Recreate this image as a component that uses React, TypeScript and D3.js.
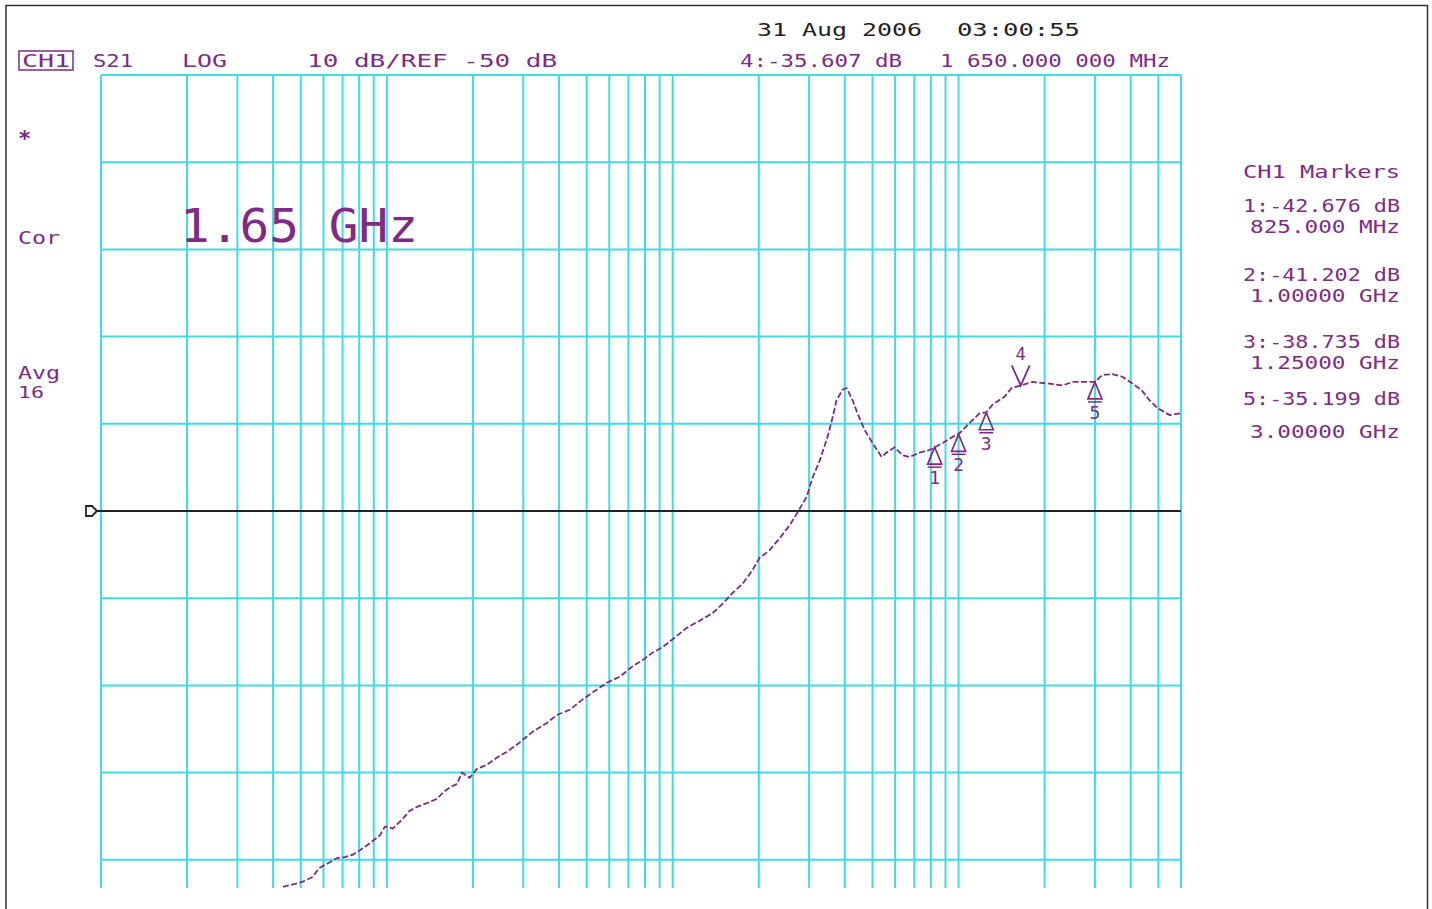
import React from "react";
import * as d3 from "d3";

// ---- data ----
const freqMHz = [
  4.33, 4.85, 5.08, 5.47, 5.83, 6.22, 6.69, 7.13, 7.61, 8.05, 8.72, 9.45, 9.84, 10.5, 11.3, 12.0, 12.8, 13.8,
  15.0, 15.7, 16.6, 17.6, 18.3, 19.5, 20.6, 22.4, 24.2, 26.3, 28.5, 32.4, 36.3, 39.3, 43.6, 48.4, 54.2, 58.8,
  65.3, 72.4, 78.5, 84.5, 92.3, 100, 112, 124, 138, 150, 162, 176, 190, 201, 218, 237, 257, 274, 294, 309, 327,
  348, 363, 374, 393, 406, 426, 443, 469, 500, 538, 565, 597, 637, 674, 731, 792, 825, 880, 953, 1007, 1093,
  1184, 1250, 1315, 1448, 1532, 1650, 1815, 2080, 2310, 2505, 2715, 3000, 3185, 3450, 3740, 4025, 4360, 4655,
  4965, 5470, 6000,
];
const s21dB = [
  -93.1, -92.7, -92.5, -92.0, -90.9, -90.4, -89.8, -89.7, -89.4, -88.9, -88.1, -87.2, -86.2, -86.4, -85.4, -84.4,
  -83.9, -83.5, -83.0, -82.3, -81.7, -81.3, -80.0, -80.6, -79.6, -79.1, -78.3, -77.6, -76.8, -75.3, -74.3, -73.4,
  -72.8, -71.6, -70.5, -69.7, -69.0, -67.8, -67.1, -66.3, -65.6, -64.7, -63.4, -62.6, -61.7, -60.6, -59.4, -58.3,
  -56.8, -55.4, -54.5, -53.1, -51.6, -50.1, -48.4, -46.1, -44.2, -41.5, -39.2, -37.3, -36.1, -35.9, -37.3, -38.8,
  -40.7, -42.2, -43.8, -43.2, -42.7, -43.6, -43.8, -43.3, -43.0, -42.7, -42.2, -41.5, -41.1, -39.9, -38.8, -38.7,
  -37.8, -36.9, -35.9, -35.6, -35.2, -35.4, -35.6, -35.2, -35.2, -35.2, -34.4, -34.3, -34.6, -35.3, -36.1, -37.3,
  -38.2, -39.0, -38.8,
];

const markerIds = ["1", "2", "3", "4", "5"];
const markerFreqMHz = [825, 1000, 1250, 1650, 3000];
const markerDb = [-42.676, -41.202, -38.735, -35.607, -35.199];
const activeMarker = "4";

const markerListTitle = "CH1 Markers";
const markerListLines = [
  "1:-42.676 dB",
  "825.000 MHz",
  "2:-41.202 dB",
  "1.00000 GHz",
  "3:-38.735 dB",
  "1.25000 GHz",
  "5:-35.199 dB",
  "3.00000 GHz",
];

const startHz = 1e6;
const stopHz = 6e9;
const refDb = -50;
const dbPerDiv = 10;
const topDb = 0;
const bottomDb = -100;

// ---- styling ----
const W = 1432;
const H = 909;
const PURPLE = "#7e2a86";
const CYAN = "#3fdce4";
const MONO = "'DejaVu Sans Mono', monospace";

export default function App() {
  const plotL = 101;
  const plotR = 1181;
  const plotT = 75;
  const plotB = 947;
  const clipB = 888;

  const x = d3.scaleLog().domain([startHz, stopHz]).range([plotL, plotR]);
  const y = d3.scaleLinear().domain([bottomDb, topDb]).range([plotB, plotT]);

  const vTicks = x.ticks();
  const hTicks = d3.range(bottomDb + dbPerDiv, topDb + 0.1, dbPerDiv);

  const line = d3
    .line<number>()
    .x((_, i) => x(freqMHz[i] * 1e6))
    .y((d) => y(d));

  const markerListY = [212, 233, 281, 302, 348, 369, 405, 438];

  return (
    <svg
      width={W}
      height={H}
      viewBox={`0 0 ${W} ${H}`}
      style={{ position: "absolute", left: 0, top: 0, background: "#fff" }}
    >
      <rect x={0} y={0} width={W} height={H} fill="#fff" />
      {/* outer frame */}
      <path d={`M6,${H + 2} V5.5 H1427.5 V${H + 2}`} fill="none" stroke="#333" strokeWidth={1.5} />

      {/* graticule */}
      <g stroke={CYAN} strokeWidth={2} fill="none">
        {vTicks.map((t, i) => (
          <line key={"v" + i} x1={x(t)} x2={x(t)} y1={plotT} y2={clipB} />
        ))}
        {hTicks
          .filter((d) => y(d) < clipB && d !== refDb)
          .map((d, i) => (
            <line key={"h" + i} x1={plotL} x2={plotR} y1={y(d)} y2={y(d)} />
          ))}
      </g>

      {/* reference line & marker */}
      <line x1={93} x2={plotR} y1={y(refDb)} y2={y(refDb)} stroke="#222" strokeWidth={2} />
      <path
        d={`M86,${y(refDb) - 5} H92 L97,${y(refDb)} L92,${y(refDb) + 5} H86 Z`}
        fill="#fff"
        stroke="#222"
        strokeWidth={1.8}
      />

      {/* trace */}
      <path
        d={line(s21dB) || ""}
        fill="none"
        stroke={PURPLE}
        strokeWidth={1.8}
        strokeDasharray="6 2.5"
      />

      {/* markers on trace */}
      {markerIds.map((id, i) => {
        const mx = x(markerFreqMHz[i] * 1e6);
        const my = y(markerDb[i]);
        if (id === activeMarker) {
          return (
            <g key={id}>
              <path
                d={`M${mx - 9},${my - 20} L${mx},${my} L${mx + 9},${my - 20}`}
                fill="none"
                stroke={PURPLE}
                strokeWidth={1.8}
              />
              <text x={mx} y={my - 25} fontFamily={MONO} fontSize={17} fill={PURPLE} textAnchor="middle">
                {id}
              </text>
            </g>
          );
        }
        return (
          <g key={id}>
            <path
              d={`M${mx},${my} L${mx - 7},${my + 17} H${mx + 7} Z`}
              fill="none"
              stroke={PURPLE}
              strokeWidth={1.7}
            />
            <line x1={mx - 7} x2={mx + 7} y1={my + 20} y2={my + 20} stroke={PURPLE} strokeWidth={1.5} />
            <text x={mx} y={my + 37} fontFamily={MONO} fontSize={18} fill={PURPLE} textAnchor="middle">
              {id}
            </text>
          </g>
        );
      })}

      {/* header */}
      <g fontFamily={MONO} fontSize={18}>
        <text x={757} y={36} fill="#222" textLength={165} lengthAdjust="spacingAndGlyphs">31 Aug 2006</text>
        <text x={957} y={36} fill="#222" textLength={123} lengthAdjust="spacingAndGlyphs">03:00:55</text>
        <rect x={19} y={51} width={54} height={19} fill="none" stroke={PURPLE} strokeWidth={1.5} />
        <text x={22} y={67} fill={PURPLE} textLength={48} lengthAdjust="spacingAndGlyphs">CH1</text>
        <text x={93} y={67} fill={PURPLE} textLength={40} lengthAdjust="spacingAndGlyphs">S21</text>
        <text x={182} y={67} fill={PURPLE} textLength={45} lengthAdjust="spacingAndGlyphs">LOG</text>
        <text x={307} y={67} fill={PURPLE} textLength={250} lengthAdjust="spacingAndGlyphs">10 dB/REF -50 dB</text>
        <text x={740} y={67} fill={PURPLE} textLength={162} lengthAdjust="spacingAndGlyphs">4:-35.607 dB</text>
        <text x={940} y={67} fill={PURPLE} textLength={230} lengthAdjust="spacingAndGlyphs">1 650.000 000 MHz</text>
      </g>

      {/* left annotations */}
      <g fontFamily={MONO} fontSize={18} fill={PURPLE}>
        <text x={18} y={146} fontSize={22} fontWeight="bold">*</text>
        <text x={18} y={244} textLength={42} lengthAdjust="spacingAndGlyphs">Cor</text>
        <text x={18} y={379} textLength={42} lengthAdjust="spacingAndGlyphs">Avg</text>
        <text x={18} y={398} fontSize={16} textLength={26} lengthAdjust="spacingAndGlyphs">16</text>
      </g>

      {/* big frequency readout */}
      <text
        x={180}
        y={242}
        fontFamily={MONO}
        fontSize={46}
        fill={PURPLE}
        textLength={238}
        lengthAdjust="spacingAndGlyphs"
      >
        1.65 GHz
      </text>

      {/* marker table */}
      <g fontFamily={MONO} fontSize={16} fill={PURPLE}>
        <text x={1243} y={178} fontSize={17} textLength={157} lengthAdjust="spacingAndGlyphs">
          {markerListTitle}
        </text>
        {markerListLines.map((s, i) => {
          const isValue = i % 2 === 0;
          const x0 = isValue ? 1243 : 1250;
          return (
            <text
              key={i}
              x={x0}
              y={markerListY[i]}
              fontSize={17}
              textLength={1400 - x0}
              lengthAdjust="spacingAndGlyphs"
            >
              {s}
            </text>
          );
        })}
      </g>
    </svg>
  );
}
